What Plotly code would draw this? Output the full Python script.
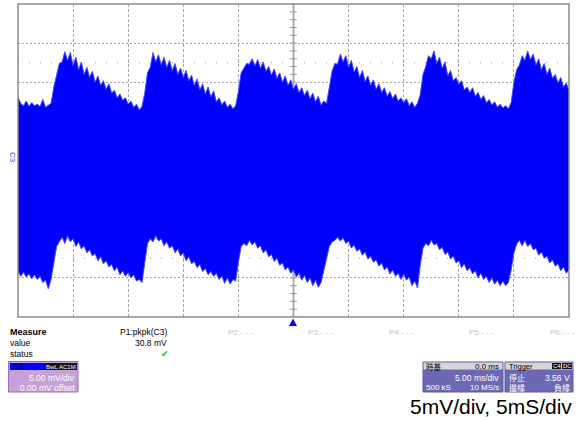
import plotly.graph_objects as go

# ---------------- data ----------------
T_START, T_STEP = -25.0, 0.25  # ms
upper_mv = [
    8.1, 7.3, 7.0, 7.6,   6.9, 7.4, 7.0, 7.2,   6.9, 7.8, 6.8, 7.1,
    7.3, 9.4, 11.0, 12.4, 12.6, 13.9, 12.8, 13.8, 12.1, 13.2, 11.6, 12.6,
    11.0, 11.9, 10.6, 11.4, 10.0, 10.8, 9.6, 10.2, 9.1, 9.8, 8.6, 9.0,
    8.0, 8.5, 7.7, 8.0,   7.2, 7.6, 6.8, 7.2,   6.5, 6.9, 8.6, 11.2,
    11.9, 13.8, 12.6, 13.5, 12.2, 13.2, 11.9, 12.8, 11.5, 12.4, 11.0, 11.8,
    10.6, 11.5, 10.2, 10.9, 9.6, 10.4, 9.0, 9.8,  8.5, 9.4, 8.1, 8.9,
    7.5, 8.0, 7.1, 7.6,   6.8, 7.2, 6.6, 7.0,   8.8, 11.2, 11.8, 12.4,
    12.3, 13.0, 12.1, 12.9, 11.8, 12.6, 11.4, 12.0, 10.9, 11.7, 10.5, 11.2,
    10.0, 10.8, 9.6, 10.3, 9.1, 9.8, 8.7, 9.3,   8.3, 9.0, 7.9, 8.6,
    7.5, 8.2, 7.1, 7.6,   7.3, 9.5, 11.4, 12.4, 12.3, 13.6, 12.6, 13.4,
    11.9, 12.8, 11.3, 12.0, 10.6, 11.5, 10.1, 10.8, 9.6, 10.3, 9.1, 9.8,
    8.7, 9.3, 8.2, 8.8,   7.9, 8.5, 7.6, 8.0,   7.4, 7.9, 7.0, 7.5,
    6.8, 7.3, 8.4, 11.0,  12.0, 13.4, 13.0, 14.0, 12.4, 13.2, 11.8, 12.6,
    10.8, 11.5, 10.2, 10.6, 9.7, 10.2, 9.0, 9.4,  8.7, 9.3, 8.2, 8.7,
    7.8, 8.3, 7.4, 7.8,   7.1, 7.5, 6.8, 7.2,   6.7, 7.0, 6.6, 7.4,
    10.0, 11.6, 12.2, 13.4, 12.8, 14.0, 12.9, 13.6, 12.2, 13.0, 11.6, 12.4,
    11.0, 11.8, 10.5, 11.0, 9.9, 10.6, 9.4, 9.9,
    9.0,
]
lower_mv = [
    -14.2, -14.8, -14.3, -14.9, -14.5, -15.1, -14.6, -15.2, -14.8, -15.6, -15.3, -16.4,
    -15.2, -13.0, -11.0, -10.4, -9.8, -10.6, -9.6, -10.4, -10.0, -11.0, -10.4, -11.3,
    -10.9, -11.8, -11.4, -12.2, -11.9, -12.8, -12.3, -13.2, -12.8, -13.6, -13.3, -14.1,
    -13.6, -14.6, -14.1, -14.8, -14.3, -15.0, -14.6, -15.4, -15.2, -15.6, -13.0, -10.6,
    -10.0, -10.4, -9.6, -10.3, -10.0, -10.9, -10.4, -11.2, -10.9, -11.8, -11.3, -12.2,
    -11.8, -12.8, -12.3, -13.2, -12.9, -13.7, -13.3, -14.2, -13.8, -14.6, -14.2, -14.8,
    -14.4, -15.2, -14.8, -15.7, -15.0, -15.8, -15.2, -15.4, -13.0, -11.0, -10.6, -10.9,
    -10.2, -10.8, -10.4, -11.2, -10.9, -11.8, -11.4, -12.3, -12.0, -12.9, -12.5, -13.4,
    -13.1, -14.0, -13.6, -14.4, -14.0, -14.9, -14.4, -15.3, -14.7, -15.6, -15.0, -16.0,
    -15.3, -16.2, -15.6, -14.0, -12.4, -11.0, -10.4, -10.2, -9.8, -10.3, -9.9, -10.6,
    -10.3, -11.2, -10.8, -11.6, -11.3, -12.1, -11.7, -12.6, -12.2, -13.0, -12.7, -13.5,
    -13.1, -14.0, -13.6, -14.5, -14.0, -14.8, -14.4, -15.2, -14.5, -15.3, -14.9, -16.0,
    -15.4, -16.3, -13.4, -11.2, -10.6, -10.9, -10.2, -10.8, -10.6, -11.4, -11.1, -12.0,
    -11.7, -12.6, -12.2, -13.1, -12.8, -13.7, -13.2, -14.1, -13.7, -14.5, -14.1, -15.0,
    -14.4, -15.2, -14.8, -15.6, -15.0, -15.8, -15.3, -16.0, -15.4, -16.0, -15.6, -14.0,
    -11.8, -10.7, -10.2, -10.9, -10.2, -11.0, -10.6, -11.4, -11.2, -12.1, -11.7, -12.5,
    -12.2, -13.1, -12.7, -13.5, -13.2, -14.1, -13.6, -14.4,
    -14.0,
]
time_ms = [T_START + T_STEP * i for i in range(len(upper_mv))]

X_RANGE = [-25, 25]   # ms, 5 ms/div
Y_RANGE = [-20, 20]   # mV, 5 mV/div

measure_rows = ["Measure", "value", "status"]
p1_label, p1_value = "P1:pkpk(C3)", "30.8 mV"
p_empty = ["P2:- - -", "P3:- - -", "P4:- - -", "P5:- - -", "P6:- - -"]
caption = "5mV/div, 5mS/div"

# ---------------- layout helpers (pixel -> paper) ----------------
W, H = 586, 421
L, R, TOP, BOT = 18, 569, 4, 317


def px(x):
    return (x - L) / (R - L)


def py(y):
    return (BOT - y) / (BOT - TOP)


FONT = "Liberation Sans, Arial, sans-serif"
BLUE = "#0000ff"
FRINGE = "#4848ff"

fig = go.Figure()
fig.add_trace(go.Scatter(x=time_ms, y=lower_mv, mode="lines",
                         line=dict(color=FRINGE, width=1), hoverinfo="skip"))
fig.add_trace(go.Scatter(x=time_ms, y=upper_mv, mode="lines", fill="tonexty",
                         fillcolor=BLUE, line=dict(color=FRINGE, width=1),
                         hoverinfo="skip"))

shapes = []
# dotted reference rows at +-2.5 div
for yv in (12.5, -12.5):
    shapes.append(dict(type="line", xref="x", yref="y", x0=-25, x1=25, y0=yv, y1=yv,
                       line=dict(color="#9a9a9a", width=1, dash="1px,10px"), layer="below"))
# center axes
shapes.append(dict(type="line", xref="x", yref="y", x0=0, x1=0, y0=-20, y1=20,
                   line=dict(color="#b0b0b0", width=2), layer="below"))
shapes.append(dict(type="line", xref="x", yref="y", x0=-25, x1=25, y0=0, y1=0,
                   line=dict(color="#b0b0b0", width=2), layer="below"))
for k in range(-20, 21):
    shapes.append(dict(type="line", xref="x", yref="y", x0=-0.3, x1=0.3, y0=k, y1=k,
                       line=dict(color="#909090", width=1), layer="below"))
for k in range(-25, 26):
    shapes.append(dict(type="line", xref="x", yref="y", x0=k, x1=k, y0=-0.4, y1=0.4,
                       line=dict(color="#909090", width=1), layer="below"))
# frame
shapes.append(dict(type="rect", xref="paper", yref="paper", x0=0, x1=1, y0=0, y1=1,
                   line=dict(color="#8c8c8c", width=1.5)))
# trigger arrow
shapes.append(dict(type="path", xref="paper", yref="paper",
                   path=f"M {px(289)} {py(326)} L {px(297)} {py(326)} L {px(293)} {py(318.5)} Z",
                   fillcolor=BLUE, line=dict(color=BLUE, width=0)))

# channel box
shapes.append(dict(type="rect", xref="paper", yref="paper", x0=px(8.5), x1=px(78), y0=py(392), y1=py(361.5),
                   fillcolor="#c7a0d8", line=dict(color="#9c6fb4", width=1)))
shapes.append(dict(type="rect", xref="paper", yref="paper", x0=px(10), x1=px(77), y0=py(370), y1=py(363),
                   fillcolor=BLUE, line=dict(width=0)))
shapes.append(dict(type="rect", xref="paper", yref="paper", x0=px(46), x1=px(57), y0=py(370), y1=py(363.5),
                   fillcolor="#111111", line=dict(width=0)))
shapes.append(dict(type="rect", xref="paper", yref="paper", x0=px(58), x1=px(76.5), y0=py(370), y1=py(363.5),
                   fillcolor="#111111", line=dict(width=0)))
# timebase box
shapes.append(dict(type="rect", xref="paper", yref="paper", x0=px(423), x1=px(503), y0=py(392), y1=py(362),
                   fillcolor="#6c68b4", line=dict(color="#5a56a0", width=1)))
shapes.append(dict(type="rect", xref="paper", yref="paper", x0=px(423.5), x1=px(502.5), y0=py(369.5), y1=py(362.5),
                   fillcolor="#d6d6d6", line=dict(width=0)))
# trigger box
shapes.append(dict(type="rect", xref="paper", yref="paper", x0=px(505), x1=px(573), y0=py(392), y1=py(362),
                   fillcolor="#6c68b4", line=dict(color="#5a56a0", width=1)))
shapes.append(dict(type="rect", xref="paper", yref="paper", x0=px(505.5), x1=px(572.5), y0=py(369.5), y1=py(362.5),
                   fillcolor="#d6d6d6", line=dict(width=0)))
shapes.append(dict(type="rect", xref="paper", yref="paper", x0=px(552), x1=px(561), y0=py(369), y1=py(363),
                   fillcolor="#111111", line=dict(width=0)))
shapes.append(dict(type="rect", xref="paper", yref="paper", x0=px(562), x1=px(572), y0=py(369), y1=py(363),
                   fillcolor="#111111", line=dict(width=0)))

ann = []


def text(x, y, s, size=8.5, color="#000", anchor="left", bold=False, angle=0, family=FONT):
    if bold:
        s = f"<b>{s}</b>"
    ann.append(dict(x=px(x), y=py(y), xref="paper", yref="paper", text=s, showarrow=False,
                    xanchor=anchor, yanchor="middle", textangle=angle,
                    font=dict(family=family, size=size, color=color)))


text(13, 157, "C3", size=8, color="#3a3aff", anchor="center", angle=90)
text(8, 332, measure_rows[0], size=9, bold=True)
text(8, 343, measure_rows[1], size=8.5)
text(8, 354, measure_rows[2], size=8.5)
text(168.5, 332, p1_label, size=8.5, anchor="right")
text(168.5, 343, p1_value, size=8.5, anchor="right")
text(165, 354, "✔", size=9, color="#22b022", anchor="center", family="DejaVu Sans")
for lbl, xpos in zip(p_empty, [226, 306, 387, 467, 548]):
    text(xpos, 332, lbl, size=8, color="#c4c4c4")

# channel box text
CJK = "Noto Sans CJK TC, Noto Sans CJK SC, sans-serif"
text(11, 366.5, "C3", size=8, color="#000")
text(51.5, 366.8, "BwL", size=6, color="#ffffff", anchor="center")
text(67.3, 366.8, "AC1M", size=6, color="#ffffff", anchor="center")
text(77, 378, "5.00 mV/div", size=8.5, color="#ffffff", anchor="right")
text(77, 387.5, "0.00 mV offset", size=8.5, color="#ffffff", anchor="right")
# timebase text
text(424, 366, "時基", size=7.5, color="#000", family=CJK)
text(501, 366, "0.0 ms", size=8, color="#000", anchor="right")
text(501, 378, "5.00 ms/div", size=8.5, color="#ffffff", anchor="right")
text(424, 387.5, "500 kS", size=8, color="#ffffff")
text(501, 387.5, "10 MS/s", size=8, color="#ffffff", anchor="right")
# trigger text
text(506.5, 366, "Trigger", size=7.5, color="#000")
text(556.5, 366.2, "C4", size=6, color="#ffffff", anchor="center")
text(567, 366.2, "DC", size=6, color="#ffffff", anchor="center")
text(506.5, 377.3, "停止", size=8, color="#ffffff", family=CJK)
text(571.5, 377.5, "3.56 V", size=8.5, color="#ffffff", anchor="right")
text(506.5, 387.7, "邊緣", size=8, color="#ffffff", family=CJK)
text(571.5, 387.7, "負緣", size=8, color="#ffffff", anchor="right", family=CJK)

text(573.5, 406.5, caption, size=21, color="#000", anchor="right")

fig.update_layout(
    width=W, height=H,
    margin=dict(l=L, r=W - R, t=TOP, b=H - BOT),
    paper_bgcolor="#ffffff", plot_bgcolor="#ffffff",
    showlegend=False,
    xaxis=dict(range=X_RANGE, dtick=5, tick0=-25, showgrid=True, gridcolor="#a8a8a8",
               griddash="3px,2px", gridwidth=1, showticklabels=False, ticks="",
               zeroline=False, showline=False, fixedrange=True),
    yaxis=dict(range=Y_RANGE, dtick=5, tick0=-20, showgrid=True, gridcolor="#a8a8a8",
               griddash="2px,2px", gridwidth=1, showticklabels=False, ticks="",
               zeroline=False, showline=False, fixedrange=True),
    shapes=shapes,
    annotations=ann,
)

fig.write_html("out.html", config={"displayModeBar": False},
               post_script="document.body.style.margin='0';document.body.style.overflow='hidden';")
